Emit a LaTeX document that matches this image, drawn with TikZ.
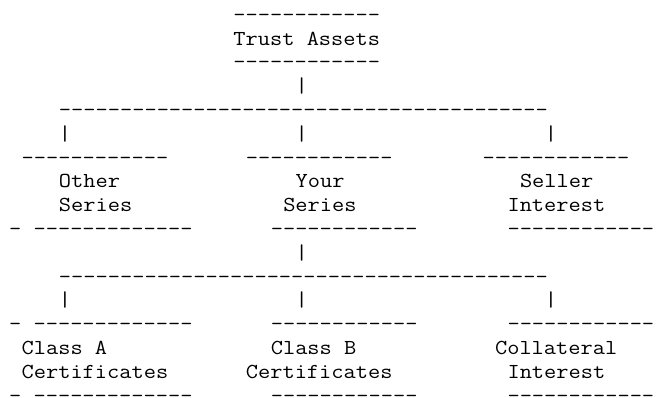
\documentclass[tikz,border=0pt]{standalone}
\usepackage{tikz}

\newcommand{\asciifont}{\ttfamily\fontsize{16}{17.85}\selectfont}

\begin{document}
\begin{tikzpicture}[x=8.4pt, y=-17.85pt, xscale=1.1125, transform shape,
    ascii/.style={font=\asciifont, inner sep=0pt, anchor=base west}]
    \useasboundingbox (0.289,0.104) rectangle (53.02,16.827);
    % Root
    \node[ascii] (Root-over) at (19,1) {------------};
    \node[ascii] (Root) at (19,2) {Trust Assets};
    \node[ascii] (Root-under) at (19,3) {------------};
    \node[ascii] (Stem-1) at (24,4) {|};
    \node[ascii] (Bar-1) at (5,5) {----------------------------------------};
    \foreach \c/\i in {5/1,24/2,44/3} {
        \node[ascii] (Drop1-\i) at (\c,6) {|};
    }
    % Series layer
    \foreach \c/\i in {2/1,20/2,39/3} {
        \node[ascii] (Series-over-\i) at (\c,7) {------------};
    }
    \node[ascii] (Series-1) at (5,8) {Other};
    \node[ascii] (Series-1b) at (5,9) {Series};
    \node[ascii] (Series-2) at (24,8) {Your};
    \node[ascii] (Series-2b) at (23,9) {Series};
    \node[ascii] (Series-3) at (42,8) {Seller};
    \node[ascii] (Series-3b) at (41,9) {Interest};
    \node[ascii] (Series-under-1) at (1,10) {- -------------};
    \foreach \c/\i in {22/2,41/3} {
        \node[ascii] (Series-under-\i) at (\c,10) {------------};
    }
    \node[ascii] (Stem-2) at (24,11) {|};
    \node[ascii] (Bar-2) at (5,12) {----------------------------------------};
    \foreach \c/\i in {5/1,24/2,44/3} {
        \node[ascii] (Drop2-\i) at (\c,13) {|};
    }
    % Class layer
    \foreach \r/\s in {14/over,17/under} {
        \node[ascii] (Class-\s-1) at (1,\r) {- -------------};
        \node[ascii] (Class-\s-2) at (22,\r) {------------};
        \node[ascii] (Class-\s-3) at (41,\r) {------------};
    }
    \node[ascii] (Class-1) at (2,15) {Class A};
    \node[ascii] (Class-1b) at (2,16) {Certificates};
    \node[ascii] (Class-2) at (22,15) {Class B};
    \node[ascii] (Class-2b) at (20,16) {Certificates};
    \node[ascii] (Class-3) at (40,15) {Collateral};
    \node[ascii] (Class-3b) at (41,16) {Interest};
\end{tikzpicture}
\end{document}
